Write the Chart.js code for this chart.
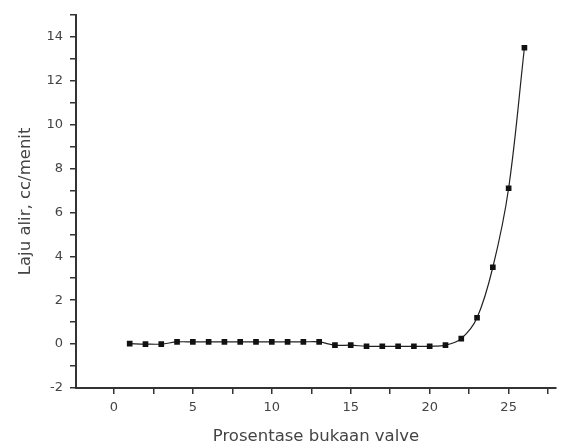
<!DOCTYPE html>
<html>
<head>
<meta charset="utf-8">
<script src="https://cdn.jsdelivr.net/npm/chart.js@4/dist/chart.umd.min.js"></script>
<style>
  html, body { margin: 0; padding: 0; background: #fff; }
  #wrap { width: 562px; height: 448px; }
</style>
</head>
<body>
<div id="wrap"><canvas id="myChart"></canvas></div>
<script>
// valve opening (%) and flow rate
const valveOpening = [1, 2, 3, 4, 5, 6, 7, 8, 9, 10, 11, 12, 13, 14, 15, 16, 17, 18, 19, 20, 21, 22, 23, 24, 25, 26];
const flowRate = [0.02, 0.0, 0.0, 0.1, 0.1, 0.1, 0.1, 0.1, 0.1, 0.1, 0.1, 0.1, 0.1, -0.05, -0.05, -0.1, -0.1, -0.1, -0.1, -0.1, -0.05, 0.25, 1.2, 3.5, 7.1, 13.5];

const xLabelTicks = [0, 5, 10, 15, 20, 25];
const yLabelTicks = [-2, 0, 2, 4, 6, 8, 10, 12, 14];

const points = valveOpening.map((x, i) => ({ x: x, y: flowRate[i] }));

function drawGraph() {
  const ctx = document.getElementById('myChart').getContext('2d');
  const myChart = new Chart(ctx, {
    type: 'line',
    data: {
      datasets: [{
        label: 'Laju alir',
        data: points,
        borderColor: '#222',
        borderWidth: 1.2,
        backgroundColor: '#111',
        pointStyle: 'rect',
        pointRadius: 4,
        pointBorderWidth: 0,
        tension: 0.35,
        fill: false
      }]
    },
    options: {
      responsive: true,
      maintainAspectRatio: false,
      animation: false,
      layout: { padding: { top: 8, right: 6, left: 0, bottom: 0 } },
      plugins: { legend: { display: false }, tooltip: { enabled: false } },
      scales: {
        x: {
          type: 'linear',
          min: -2.4,
          max: 28,
          afterFit: (scale) => { scale.height = 60; },
          border: { color: '#333', width: 2 },
          grid: { drawOnChartArea: false, color: '#333', tickLength: 6, lineWidth: 1.5 },
          ticks: {
            stepSize: 2.5,
            includeBounds: false,
            maxRotation: 0,
            autoSkip: false,
            color: '#444',
            padding: 6,
            font: { family: 'DejaVu Sans', size: 13 },
            callback: (v) => xLabelTicks.includes(v) ? String(v) : ''
          },
          title: {
            display: true,
            text: 'Prosentase bukaan valve',
            color: '#444',
            font: { family: 'DejaVu Sans', size: 16.5 },
            padding: { top: 0, bottom: 1 }
          }
        },
        y: {
          type: 'linear',
          min: -2,
          max: 15,
          afterFit: (scale) => { scale.width = 76; },
          border: { color: '#333', width: 2 },
          grid: { drawOnChartArea: false, color: '#333', tickLength: 6, lineWidth: 1.5 },
          ticks: {
            stepSize: 1,
            includeBounds: false,
            autoSkip: false,
            color: '#444',
            padding: 7,
            font: { family: 'DejaVu Sans', size: 13 },
            callback: (v) => yLabelTicks.includes(v) ? String(v) : ''
          },
          title: {
            display: true,
            text: 'Laju alir, cc/menit',
            color: '#444',
            font: { family: 'DejaVu Sans', size: 16.5 },
            padding: { top: 16, bottom: 0 }
          }
        }
      }
    }
  });
}

drawGraph();
</script>
</body>
</html>
